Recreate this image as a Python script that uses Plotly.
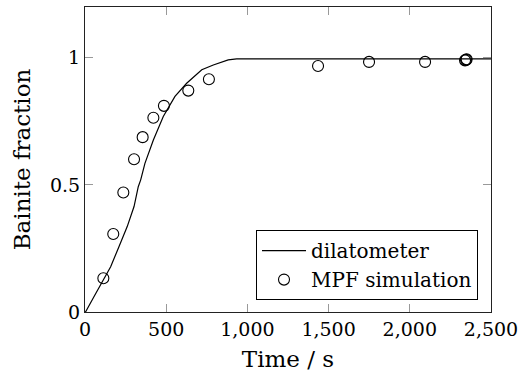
import plotly.graph_objects as go

# dilatometer curve
dil_t = [0, 4, 55, 107, 158, 209, 260, 302, 328, 343, 369, 421, 482, 554, 626, 719, 790, 882, 934, 1200, 1600, 2000, 2500]
dil_f = [0.0, 0.001, 0.060, 0.119, 0.178, 0.257, 0.336, 0.415, 0.493, 0.520, 0.585, 0.677, 0.769, 0.848, 0.900, 0.953, 0.972, 0.992, 0.996, 0.996, 0.996, 0.996, 0.996]

# MPF simulation points
mpf_t = [113, 174, 236, 302, 355, 421, 486, 636, 763, 1435, 1749, 2094, 2340, 2346, 2350]
mpf_f = [0.133, 0.307, 0.470, 0.601, 0.688, 0.764, 0.811, 0.871, 0.916, 0.968, 0.984, 0.984, 0.990, 0.992, 0.994]

x_ticks = [0, 500, 1000, 1500, 2000, 2500]
y_ticks = [0, 0.5, 1]
y_ticklabels = ["0", "0.5", "1"]

font_family = "DejaVu Serif"

fig = go.Figure()
fig.add_trace(go.Scatter(x=dil_t, y=dil_f, mode="lines", name="dilatometer",
                         line=dict(color="black", width=1.2)))
fig.add_trace(go.Scatter(x=mpf_t, y=mpf_f, mode="markers", name="MPF simulation",
                         marker=dict(symbol="circle-open", size=11, color="black",
                                     line=dict(width=1.1, color="black"))))

axis_common = dict(showline=True, linecolor="#222222", linewidth=1, mirror="allticks",
                   ticks="inside", ticklen=8, tickcolor="#999999", tickwidth=1,
                   showgrid=False, zeroline=False, ticklabeloverflow="allow",
                   automargin=False,
                   tickfont=dict(family=font_family, size=19, color="black"))

fig.update_layout(
    width=518, height=382,
    margin=dict(l=85, r=27, t=7, b=70, autoexpand=False),
    paper_bgcolor="white", plot_bgcolor="white",
    font=dict(family=font_family, size=19, color="black"),
    separators=".,",
    showlegend=True,
    legend=dict(x=0.968, y=0.039, xanchor="right", yanchor="bottom",
                bordercolor="black", borderwidth=1, bgcolor="white",
                font=dict(family=font_family, size=20, color="black"),
                itemwidth=44, tracegroupgap=0),
    xaxis=dict(range=[0, 2500], tickvals=x_ticks, tickformat=",d",
               title=dict(text="Time / s", standoff=12), **axis_common),
    yaxis=dict(range=[0, 1.2], tickvals=y_ticks, ticktext=y_ticklabels,
               title=dict(text="Bainite fraction", standoff=12), **axis_common),
)

fig.write_html("out.html")
